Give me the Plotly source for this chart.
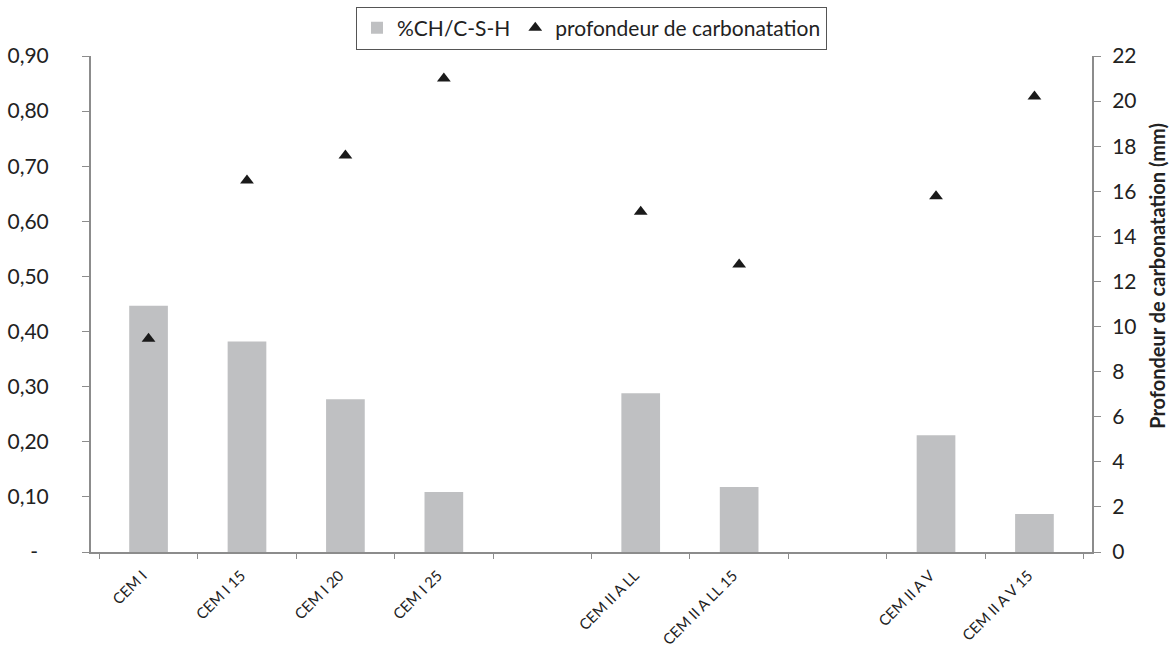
import plotly.graph_objects as go

categories = ["CEM I", "CEM I 15", "CEM I 20", "CEM I 25", " ",
              "CEM II A LL", "CEM II A LL 15", "  ", "CEM II A V", "CEM II A V 15"]
ratio_ch_csh = [0.447, 0.382, 0.277, 0.109, None, 0.288, 0.118, None, 0.212, 0.069]
profondeur = [9.46, 16.48, 17.59, 21.0, None, 15.09, 12.75, None, 15.78, 20.2]

left_tickvals = [0, 0.1, 0.2, 0.3, 0.4, 0.5, 0.6, 0.7, 0.8, 0.9]
left_ticktext = ["-\u00a0\u00a0", "0,10", "0,20", "0,30", "0,40", "0,50", "0,60", "0,70", "0,80", "0,90"]
right_tickvals = list(range(0, 23, 2))

font_family = "Lato, 'Open Sans', sans-serif"
axis_color = "#8c8c8c"

fig = go.Figure()
fig.add_trace(go.Bar(
    x=categories, y=ratio_ch_csh, name="%CH/C-S-H",
    marker=dict(color="#bfc0c2", line=dict(width=0)),
))
fig.add_trace(go.Scatter(
    x=categories, y=profondeur, name="profondeur de carbonatation",
    mode="markers", yaxis="y2",
    marker=dict(symbol="triangle-up", size=12, color="#1a1a1a"),
))

fig.update_layout(
    width=1173, height=657,
    margin=dict(l=91, r=81, t=56, b=105),
    paper_bgcolor="white", plot_bgcolor="white",
    font=dict(family=font_family, color="#222222"),
    bargap=0.607,
    showlegend=True,
    legend=dict(
        orientation="h", x=0.5, xanchor="center",
        yref="container", y=0.99, yanchor="top",
        bordercolor="#555555", borderwidth=1, bgcolor="white",
        font=dict(size=21, family=font_family), itemwidth=30,
    ),
    xaxis=dict(
        type="category", categoryorder="array", categoryarray=categories,
        tickson="boundaries", ticks="outside", ticklen=5, tickcolor=axis_color,
        showline=True, linecolor=axis_color, linewidth=2,
        tickangle=-45, tickfont=dict(size=15, family=font_family),
        showgrid=False, zeroline=False, automargin=False,
        ticklabelstandoff=7, ticklabelshift=-6,
    ),
    yaxis=dict(
        range=[0, 0.9], tickvals=left_tickvals, ticktext=left_ticktext,
        ticks="outside", ticklen=7, tickcolor=axis_color,
        showline=True, linecolor=axis_color, linewidth=2,
        showgrid=False, zeroline=False, automargin=False,
        tickfont=dict(size=21, family=font_family),
        ticklabelstandoff=29,
    ),
    yaxis2=dict(
        range=[0, 22], tickvals=right_tickvals, overlaying="y", side="right",
        ticks="outside", ticklen=7, tickcolor=axis_color,
        showline=True, linecolor=axis_color, linewidth=2,
        showgrid=False, zeroline=False, automargin=False,
        tickfont=dict(size=21, family=font_family),
        ticklabelstandoff=7,
    ),
    annotations=[dict(
        text="<b>Profondeur de carbonatation (mm)</b>",
        textangle=-90, xref="paper", yref="paper",
        x=1.0655, y=0.556, xanchor="center", yanchor="middle",
        showarrow=False, font=dict(size=20, family=font_family, color="#222222"),
    )],
)

fig.write_html("out.html", post_script="document.body.style.margin='0';",
               config={"displayModeBar": False})
